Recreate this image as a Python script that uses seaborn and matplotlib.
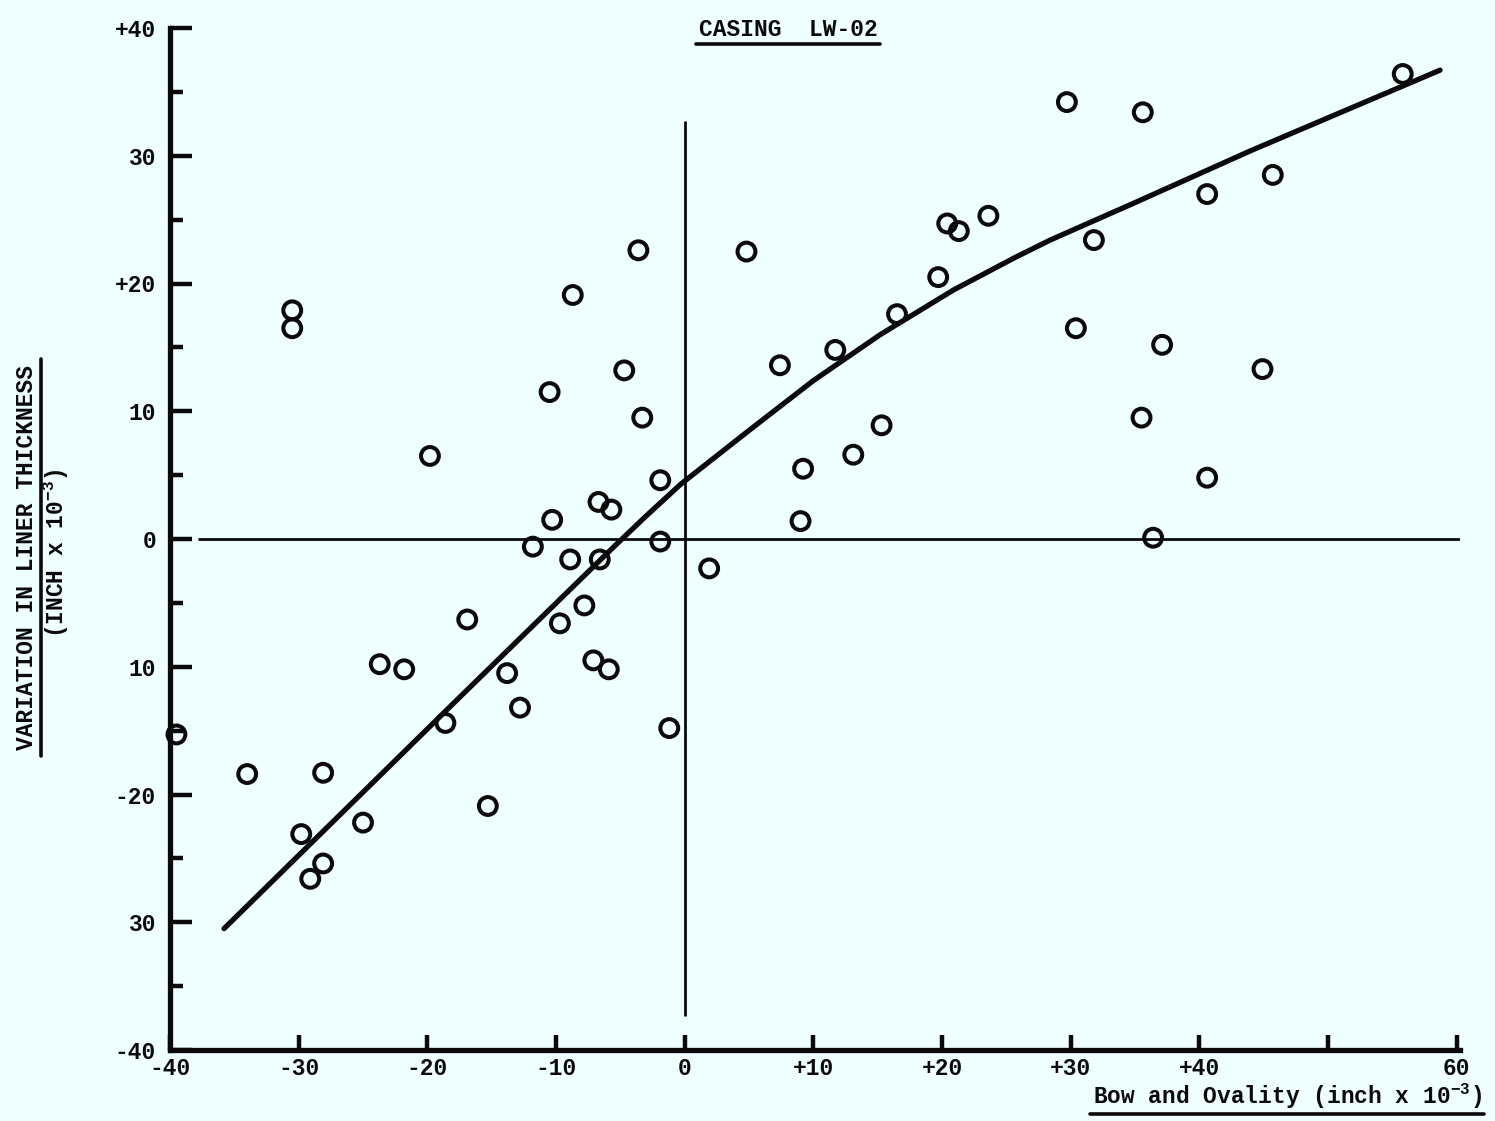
import matplotlib
matplotlib.use("Agg")
import matplotlib.pyplot as plt
from matplotlib.lines import Line2D
from matplotlib.ticker import MultipleLocator
import pandas as pd
import seaborn as sns

# ---------------- data ----------------
bow_x = [-39.5, -34.0, -30.5, -30.5, -29.8, -29.1, -28.1, -28.1, -25.0, -23.7,
         -21.8, -19.8, -18.6, -16.9, -15.3, -13.8, -12.8, -11.8, -10.5, -10.3,
         -9.7, -8.9, -8.7, -7.8, -7.1, -6.7, -6.6, -5.9, -5.7, -4.7,
         -3.6, -3.3, -1.9, -1.9, -1.2, 1.9, 4.8, 7.4, 9.0, 9.2,
         11.7, 13.1, 15.3, 16.5, 19.7, 20.4, 21.3, 23.6, 29.7, 30.4,
         31.8, 35.5, 35.6, 36.4, 37.1, 40.6, 40.6, 44.9, 45.7, 55.8]
liner_y = [-15.3, -18.4, 17.9, 16.5, -23.1, -26.6, -25.4, -18.3, -22.2, -9.8,
           -10.2, 6.5, -14.4, -6.3, -20.9, -10.5, -13.2, -0.6, 11.5, 1.5,
           -6.6, -1.6, 19.1, -5.2, -9.5, 2.9, -1.6, -10.2, 2.3, 13.2,
           22.6, 9.5, 4.6, -0.2, -14.8, -2.3, 22.5, 13.6, 1.4, 5.5,
           14.8, 6.6, 8.9, 17.6, 20.5, 24.7, 24.1, 25.3, 34.2, 16.5,
           23.4, 9.5, 33.4, 0.1, 15.2, 27.0, 4.8, 13.3, 28.5, 36.4]

curve_x = [-35.8, -17.4, -5.5, -3.0, -0.3, 5.0, 10.0, 15.2, 20.9, 25.6, 28.4,
           34.7, 44.0, 58.7]
curve_y = [-30.5, -12.3, -0.6, 1.8, 4.3, 8.5, 12.4, 16.0, 19.5, 22.0, 23.4,
           26.2, 30.4, 36.7]

x_ticks = [-40, -30, -20, -10, 0, 10, 20, 30, 40, 50, 60]
x_tick_labels = ["-40", "-30", "-20", "-10", "0", "+10", "+20", "+30", "+40", "", "60"]
y_ticks = [-40, -30, -20, -10, 0, 10, 20, 30, 40]
y_tick_labels = ["-40", "30", "-20", "10", "0", "10", "+20", "30", "+40"]

title_text = "CASING  LW-02"
ylabel_line1 = "VARIATION IN LINER THICKNESS"
ylabel_line2 = "(INCH x 10$^{-3}$)"
xlabel_text = "Bow and Ovality (inch x 10$^{-3}$)"

# ---------------- style ----------------
BG = "#EFFEFE"
INK = "#0a0a0a"
W, H = 1495, 1121
FS = 16.5

sns.set_theme(style="white")
plt.rcParams["font.family"] = ["Liberation Mono", "DejaVu Sans Mono"]
plt.rcParams["font.weight"] = "bold"
plt.rcParams["mathtext.default"] = "regular"

fig = plt.figure(figsize=(W / 100, H / 100), dpi=100, facecolor=BG)
ax = fig.add_axes([170 / W, 1 - 1050 / H, 1290 / W, 1022 / H])
ax.set_facecolor(BG)
ax.set_xlim(-40, 60.25)
ax.set_ylim(-40, 40)

# reference cross lines
ax.vlines(0, -37.3, 32.7, color=INK, linewidth=2.0, zorder=1)
ax.hlines(0, -37.8, 60.25, color=INK, linewidth=2.0, zorder=1)

df_pts = pd.DataFrame({"bow": bow_x, "liner": liner_y})
df_curve = pd.DataFrame({"bow": curve_x, "liner": curve_y})

sns.lineplot(data=df_curve, x="bow", y="liner", ax=ax, color=INK,
             linewidth=3.8, estimator=None, sort=True,
             solid_capstyle="round", solid_joinstyle="round", zorder=2)
sns.scatterplot(data=df_pts, x="bow", y="liner", ax=ax, marker="o", s=165,
                facecolor="none", edgecolor=INK, linewidth=2.9, zorder=3,
                clip_on=False)

# spines
for side in ["top", "right"]:
    ax.spines[side].set_visible(False)
for side in ["left", "bottom"]:
    ax.spines[side].set_linewidth(3.8)
    ax.spines[side].set_color(INK)
    ax.spines[side].set_zorder(4)
ax.spines["left"].set_bounds(-40, 40)
ax.spines["bottom"].set_bounds(-40, 60.25)

# ticks
ax.set_xticks(x_ticks, x_tick_labels)
ax.set_yticks(y_ticks, y_tick_labels)
ax.yaxis.set_minor_locator(MultipleLocator(5))
ax.tick_params(axis="y", which="major", direction="in", length=16, width=3.2,
               color=INK, labelsize=FS, pad=10, labelcolor=INK, left=True)
ax.tick_params(axis="y", which="minor", direction="in", length=9, width=3.2,
               color=INK, left=True)
ax.tick_params(axis="x", which="major", direction="in", length=11, width=3.2,
               color=INK, labelsize=FS, pad=5, labelcolor=INK, bottom=True)
for lab in ax.get_xticklabels() + ax.get_yticklabels():
    lab.set_fontweight("bold")
ax.set_xlabel("")
ax.set_ylabel("")

# texts
t_title = fig.text(788 / W, 1 - 29 / H, title_text, ha="center", va="center",
                   fontsize=FS, fontweight="bold", color=INK)
t_y1 = fig.text(27 / W, 1 - 557 / H, ylabel_line1, ha="center", va="center",
                rotation=90, fontsize=FS, fontweight="bold", color=INK)
t_y2 = fig.text(56 / W, 1 - 553 / H, ylabel_line2, ha="center", va="center",
                rotation=90, fontsize=FS, fontweight="bold", color=INK)
t_x = fig.text(1287 / W, 1 - 1096 / H, xlabel_text, ha="center", va="center",
               fontsize=FS, fontweight="bold", color=INK)

# underlines, placed from the rendered text extents
fig.canvas.draw()
r = fig.canvas.get_renderer()


def underline_h(t, gap=3, ext=3):
    bb = t.get_window_extent(renderer=r)
    y = (bb.y0 - gap) / H
    fig.add_artist(Line2D([(bb.x0 - ext) / W, (bb.x1 + ext) / W], [y, y],
                          transform=fig.transFigure, color=INK, linewidth=2.6))


def underline_v(t, gap=2, ext=6):
    bb = t.get_window_extent(renderer=r)
    x = (bb.x1 + gap) / W
    fig.add_artist(Line2D([x, x], [(bb.y0 - ext) / H, (bb.y1 + ext) / H],
                          transform=fig.transFigure, color=INK, linewidth=2.6))


underline_h(t_title)
underline_h(t_x)
underline_v(t_y1)

fig.savefig("out.png", dpi=100, facecolor=BG)
